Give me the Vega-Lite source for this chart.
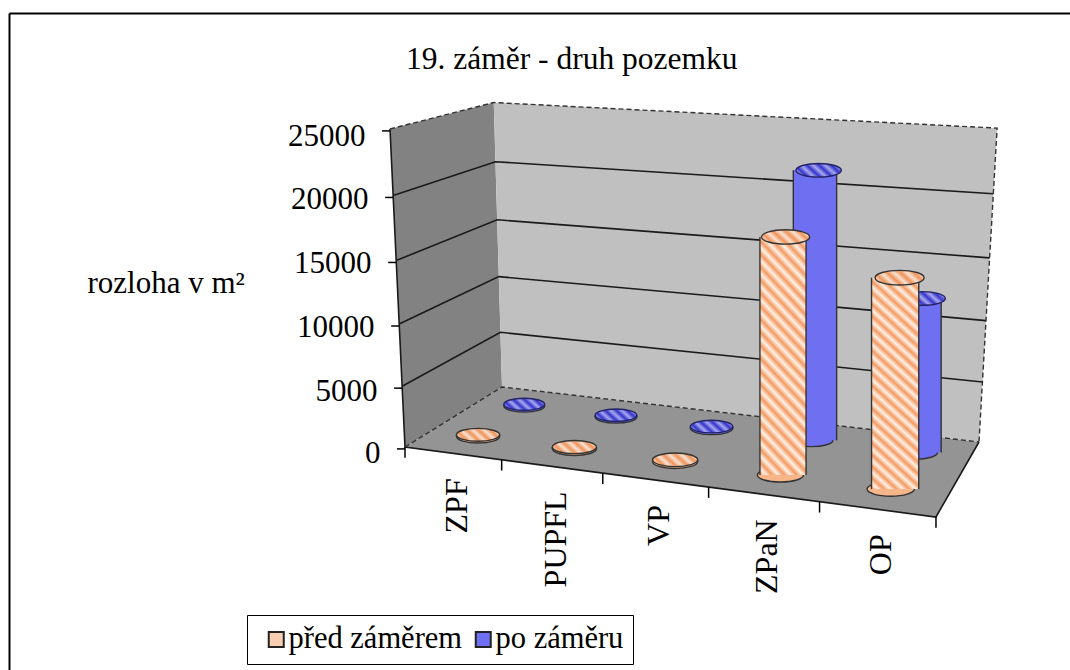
{"$schema":"https://vega.github.io/schema/vega-lite/v6.json","autosize":"none","padding":{"left":9,"top":13,"right":0,"bottom":0},"width":1061,"height":657,"background":"white","config":{"view":{"stroke":null},"font":"Liberation Serif"},
"title":{"text":"19. záměr - druh pozemku","anchor":"start","frame":"group","dx":397,"dy":87,"offset":0,"baseline":"alphabetic","font":"Liberation Serif","fontSize":31.5,"fontWeight":"normal","color":"black"},
"datasets":{
"shell":[
{"part":"left","i":0,"U":0,"D":0,"V":0},{"part":"left","i":1,"U":0,"D":1,"V":0},{"part":"left","i":2,"U":0,"D":1,"V":25000},{"part":"left","i":3,"U":0,"D":0,"V":25000},
{"part":"back","i":0,"U":0,"D":1,"V":0},{"part":"back","i":1,"U":5,"D":1,"V":0},{"part":"back","i":2,"U":5,"D":1,"V":25000},{"part":"back","i":3,"U":0,"D":1,"V":25000},
{"part":"floor","i":0,"U":0,"D":0,"V":0},{"part":"floor","i":1,"U":5,"D":0,"V":0},{"part":"floor","i":2,"U":5,"D":1,"V":0},{"part":"floor","i":3,"U":0,"D":1,"V":0}],
"lines":[
{"line":"g5","kind":"solid","i":0,"U":0,"D":0,"V":5000},{"line":"g5","kind":"solid","i":1,"U":0,"D":1,"V":5000},{"line":"g5","kind":"solid","i":2,"U":5,"D":1,"V":5000},
{"line":"g10","kind":"solid","i":0,"U":0,"D":0,"V":10000},{"line":"g10","kind":"solid","i":1,"U":0,"D":1,"V":10000},{"line":"g10","kind":"solid","i":2,"U":5,"D":1,"V":10000},
{"line":"g15","kind":"solid","i":0,"U":0,"D":0,"V":15000},{"line":"g15","kind":"solid","i":1,"U":0,"D":1,"V":15000},{"line":"g15","kind":"solid","i":2,"U":5,"D":1,"V":15000},
{"line":"g20","kind":"solid","i":0,"U":0,"D":0,"V":20000},{"line":"g20","kind":"solid","i":1,"U":0,"D":1,"V":20000},{"line":"g20","kind":"solid","i":2,"U":5,"D":1,"V":20000},
{"line":"front","kind":"solid","i":0,"U":0,"D":0,"V":25000},{"line":"front","kind":"solid","i":1,"U":0,"D":0,"V":0},{"line":"front","kind":"solid","i":2,"U":5,"D":0,"V":0},{"line":"front","kind":"solid","i":3,"U":5,"D":1,"V":0},
{"line":"rim","kind":"dash","i":0,"U":0,"D":0,"V":25000},{"line":"rim","kind":"dash","i":1,"U":0,"D":1,"V":25000},{"line":"rim","kind":"dash","i":2,"U":5,"D":1,"V":25000},{"line":"rim","kind":"dash","i":3,"U":5,"D":1,"V":0},
{"line":"base","kind":"dash","i":0,"U":0,"D":0,"V":0},{"line":"base","kind":"dash","i":1,"U":0,"D":1,"V":0},{"line":"base","kind":"dash","i":2,"U":5,"D":1,"V":0}],
"yticks":[{"V":0},{"V":5000},{"V":10000},{"V":15000},{"V":20000},{"V":25000}],
"xticks":[{"U":0},{"U":1},{"U":2},{"U":3},{"U":4},{"U":5}],
"rows":[
{"category":"ZPF","series":"před záměrem","value":150},{"category":"PUPFL","series":"před záměrem","value":150},{"category":"VP","series":"před záměrem","value":150},{"category":"ZPaN","series":"před záměrem","value":18200},{"category":"OP","series":"před záměrem","value":15900},
{"category":"ZPF","series":"po záměru","value":150},{"category":"PUPFL","series":"po záměru","value":150},{"category":"VP","series":"po záměru","value":150},{"category":"ZPaN","series":"po záměru","value":21700},{"category":"OP","series":"po záměru","value":12400}]
},
"layer":[
{"data":{"name":"shell"},"transform":[
{"calculate":"1-.1097*datum.U/5+.1231*datum.D-.055*datum.V/25000","as":"w"},
{"calculate":"(405+428.3*datum.U/5+158.8*datum.D-36.45*datum.V/25000)/datum.w","as":"sx"},
{"calculate":"(447-(447+13.3*datum.U/5-12.4*datum.D-325.1*datum.V/25000)/datum.w)/63.8*5000","as":"yv"}],
"layer":[
{"transform":[{"filter":"datum.part=='left'"}],"mark":{"type":"line","fill":"#828282","strokeWidth":0},"encoding":{"x":{"field":"sx","type":"quantitative","scale":{"domain":[9,1070]},"axis":{"orient":"top","domain":true,"domainColor":"black","domainWidth":2,"ticks":false,"labels":false,"grid":false,"title":null}},"y":{"field":"yv","type":"quantitative","scale":{"domain":[-17476,34012.5]},"axis":{"values":[0,5000,10000,15000,20000,25000],"domain":true,"domainColor":"black","domainWidth":2,"ticks":false,"grid":false,"labelFont":"Liberation Serif","labelFontSize":31,"labelColor":"black","labelPadding":0,"labelFlush":false,"labelOverlap":false,"format":"d","encoding":{"labels":{"dx":{"value":{"expr":"371-3*datum.value/5000"}},"dy":{"value":{"expr":"datum.value==0?6:8"}}}},"title":"rozloha v m²","titleFont":"Liberation Serif","titleFontSize":31,"titleFontWeight":"normal","titleColor":"black","titleAngle":0,"titleAlign":"left","titleBaseline":"alphabetic","titleX":78,"titleY":279}},"order":{"field":"i"}}},
{"transform":[{"filter":"datum.part=='back'"}],"mark":{"type":"line","fill":"#c0c0c0","strokeWidth":0},"encoding":{"x":{"field":"sx","type":"quantitative","scale":{"domain":[9,1070]}},"y":{"field":"yv","type":"quantitative","scale":{"domain":[-17476,34012.5]}},"order":{"field":"i"}}},
{"transform":[{"filter":"datum.part=='floor'"}],"mark":{"type":"line","fill":"#949494","strokeWidth":0},"encoding":{"x":{"field":"sx","type":"quantitative","scale":{"domain":[9,1070]}},"y":{"field":"yv","type":"quantitative","scale":{"domain":[-17476,34012.5]}},"order":{"field":"i"}}}
]},
{"data":{"name":"lines"},"transform":[
{"calculate":"1-.1097*datum.U/5+.1231*datum.D-.055*datum.V/25000","as":"w"},
{"calculate":"(405+428.3*datum.U/5+158.8*datum.D-36.45*datum.V/25000)/datum.w","as":"sx"},
{"calculate":"(447-(447+13.3*datum.U/5-12.4*datum.D-325.1*datum.V/25000)/datum.w)/63.8*5000","as":"yv"}],
"layer":[
{"transform":[{"filter":"datum.kind=='solid'"}],"mark":{"type":"line","stroke":"#1a1a1a","strokeWidth":1.6},"encoding":{"x":{"field":"sx","type":"quantitative","scale":{"domain":[9,1070]}},"y":{"field":"yv","type":"quantitative","scale":{"domain":[-17476,34012.5]}},"detail":{"field":"line"},"order":{"field":"i"}}},
{"transform":[{"filter":"datum.kind=='dash'"}],"mark":{"type":"line","stroke":"#333333","strokeWidth":1.4,"strokeDash":[5,3]},"encoding":{"x":{"field":"sx","type":"quantitative","scale":{"domain":[9,1070]}},"y":{"field":"yv","type":"quantitative","scale":{"domain":[-17476,34012.5]}},"detail":{"field":"line"},"order":{"field":"i"}}}
]},
{"data":{"name":"yticks"},"transform":[
{"calculate":"1-.055*datum.V/25000","as":"w"},
{"calculate":"(405-36.45*datum.V/25000)/datum.w","as":"sx"},
{"calculate":"datum.sx-8","as":"sx2"},
{"calculate":"(447-(447-325.1*datum.V/25000)/datum.w)/63.8*5000-150","as":"yv"}],
"mark":{"type":"rule","stroke":"black","strokeWidth":1.5},"encoding":{"x":{"field":"sx","type":"quantitative","scale":{"domain":[9,1070]}},"x2":{"field":"sx2"},"y":{"field":"yv","type":"quantitative","scale":{"domain":[-17476,34012.5]}}}},
{"data":{"name":"xticks"},"transform":[
{"calculate":"1-.1097*datum.U/5","as":"w"},
{"calculate":"(405+428.3*datum.U/5)/datum.w","as":"sx"},
{"calculate":"(447-(447+13.3*datum.U/5)/datum.w)/63.8*5000","as":"yv"},
{"calculate":"datum.yv-850","as":"yv2"}],
"mark":{"type":"rule","stroke":"black","strokeWidth":1.5},"encoding":{"x":{"field":"sx","type":"quantitative","scale":{"domain":[9,1070]}},"y":{"field":"yv","type":"quantitative","scale":{"domain":[-17476,34012.5]}},"y2":{"field":"yv2"}}},
{"data":{"name":"rows"},"transform":[
{"calculate":"(indexof(['ZPF','PUPFL','VP','ZPaN','OP'],datum.category)+.5)/5","as":"U"},
{"calculate":"datum.series=='po záměru'?.75:.25","as":"D"},
{"calculate":"1-.1097*datum.U+.1231*datum.D","as":"wb"},
{"calculate":"datum.wb-.055*datum.value/25000","as":"wt"},
{"calculate":"(405+428.3*datum.U+158.8*datum.D)/datum.wb","as":"xb"},
{"calculate":"(405+428.3*datum.U+158.8*datum.D-36.45*datum.value/25000)/datum.wt","as":"xt"},
{"calculate":"(447-(447+13.3*datum.U-12.4*datum.D)/datum.wb)/63.8*5000","as":"yb"},
{"calculate":"(447-(447+13.3*datum.U-12.4*datum.D-325.1*datum.value/25000)/datum.wt)/63.8*5000","as":"yt"},
{"calculate":"pow(44/datum.wb,2)","as":"sb"},
{"calculate":"pow(44/datum.wt,2)","as":"st"},
{"calculate":"(datum.xb+datum.xt)/2-22/datum.wb","as":"xl"},
{"calculate":"(datum.xb+datum.xt)/2+22/datum.wb","as":"xr"}],
"layer":[
{"transform":[{"filter":"datum.series=='po záměru'"}],"layer":[
{"mark":{"type":"point","filled":true,"opacity":1,"shape":"M-1,0A1,0.3,0,1,1,1,0A1,0.3,0,1,1,-1,0Z","stroke":"#333333","strokeWidth":1.4},"encoding":{"x":{"field":"xb","type":"quantitative","scale":{"domain":[9,1070]}},"y":{"field":"yb","type":"quantitative","scale":{"domain":[-17476,34012.5]}},"size":{"field":"sb","type":"quantitative","scale":null},"color":{"field":"series","type":"nominal","scale":{"domain":["před záměrem","po záměru"],"range":["#f7cfb0","#6f6ff2"]},"legend":{"title":null,"orient":"none","legendX":238,"legendY":602,"direction":"horizontal","strokeColor":"black","fillColor":"white","padding":9,"symbolType":"square","symbolSize":225,"symbolStrokeColor":"#222222","symbolStrokeWidth":2,"symbolOpacity":1,"symbolOffset":5,"labelFont":"Liberation Serif","labelFontSize":30.5,"labelColor":"black","labelOffset":-3,"labelLimit":400,"columnPadding":0}}}},
{"mark":{"type":"rect","fill":"#6f6ff2"},"encoding":{"x":{"field":"xl","type":"quantitative","scale":{"domain":[9,1070]}},"x2":{"field":"xr"},"y":{"field":"yt","type":"quantitative","scale":{"domain":[-17476,34012.5]}},"y2":{"field":"yb"}}},
{"mark":{"type":"rule","stroke":"#333333","strokeWidth":1.4},"encoding":{"x":{"field":"xl","type":"quantitative","scale":{"domain":[9,1070]}},"y":{"field":"yt","type":"quantitative","scale":{"domain":[-17476,34012.5]}},"y2":{"field":"yb"}}},
{"mark":{"type":"rule","stroke":"#333333","strokeWidth":1.4},"encoding":{"x":{"field":"xr","type":"quantitative","scale":{"domain":[9,1070]}},"y":{"field":"yt","type":"quantitative","scale":{"domain":[-17476,34012.5]}},"y2":{"field":"yb"}}},
{"mark":{"type":"point","filled":true,"opacity":1,"fill":{"gradient":"linear","x1":0,"y1":1,"x2":1.2,"y2":0.6,"stops":[{"offset":0,"color":"#3434cc"},{"offset":0.1,"color":"#a8a8ee"},{"offset":0.2,"color":"#3434cc"},{"offset":0.3,"color":"#a8a8ee"},{"offset":0.4,"color":"#3434cc"},{"offset":0.5,"color":"#a8a8ee"},{"offset":0.6,"color":"#3434cc"},{"offset":0.7,"color":"#a8a8ee"},{"offset":0.8,"color":"#3434cc"},{"offset":0.9,"color":"#a8a8ee"},{"offset":1,"color":"#3434cc"}]},"shape":"M-1,0A1,0.3,0,1,1,1,0A1,0.3,0,1,1,-1,0Z","stroke":"#222266","strokeWidth":1.4},"encoding":{"x":{"field":"xt","type":"quantitative","scale":{"domain":[9,1070]}},"y":{"field":"yt","type":"quantitative","scale":{"domain":[-17476,34012.5]}},"size":{"field":"st","type":"quantitative","scale":null}}}
]},
{"transform":[{"filter":"datum.series=='před záměrem'"}],"layer":[
{"mark":{"type":"point","filled":true,"opacity":1,"fill":"#f7b58a","shape":"M-1,0A1,0.3,0,1,1,1,0A1,0.3,0,1,1,-1,0Z","stroke":"#333333","strokeWidth":1.4},"encoding":{"x":{"field":"xb","type":"quantitative","scale":{"domain":[9,1070]}},"y":{"field":"yb","type":"quantitative","scale":{"domain":[-17476,34012.5]}},"size":{"field":"sb","type":"quantitative","scale":null}}},
{"mark":{"type":"rect","fill":{"gradient":"linear","x1":0,"y1":1,"x2":0.2365,"y2":-0.156,"stops":[{"offset":0,"color":"#f39a62"},{"offset":0.0227,"color":"#fff1e6"},{"offset":0.0455,"color":"#f39a62"},{"offset":0.0682,"color":"#fff1e6"},{"offset":0.0909,"color":"#f39a62"},{"offset":0.1136,"color":"#fff1e6"},{"offset":0.1364,"color":"#f39a62"},{"offset":0.1591,"color":"#fff1e6"},{"offset":0.1818,"color":"#f39a62"},{"offset":0.2045,"color":"#fff1e6"},{"offset":0.2273,"color":"#f39a62"},{"offset":0.25,"color":"#fff1e6"},{"offset":0.2727,"color":"#f39a62"},{"offset":0.2955,"color":"#fff1e6"},{"offset":0.3182,"color":"#f39a62"},{"offset":0.3409,"color":"#fff1e6"},{"offset":0.3636,"color":"#f39a62"},{"offset":0.3864,"color":"#fff1e6"},{"offset":0.4091,"color":"#f39a62"},{"offset":0.4318,"color":"#fff1e6"},{"offset":0.4545,"color":"#f39a62"},{"offset":0.4773,"color":"#fff1e6"},{"offset":0.5,"color":"#f39a62"},{"offset":0.5227,"color":"#fff1e6"},{"offset":0.5455,"color":"#f39a62"},{"offset":0.5682,"color":"#fff1e6"},{"offset":0.5909,"color":"#f39a62"},{"offset":0.6136,"color":"#fff1e6"},{"offset":0.6364,"color":"#f39a62"},{"offset":0.6591,"color":"#fff1e6"},{"offset":0.6818,"color":"#f39a62"},{"offset":0.7045,"color":"#fff1e6"},{"offset":0.7273,"color":"#f39a62"},{"offset":0.75,"color":"#fff1e6"},{"offset":0.7727,"color":"#f39a62"},{"offset":0.7955,"color":"#fff1e6"},{"offset":0.8182,"color":"#f39a62"},{"offset":0.8409,"color":"#fff1e6"},{"offset":0.8636,"color":"#f39a62"},{"offset":0.8864,"color":"#fff1e6"},{"offset":0.9091,"color":"#f39a62"},{"offset":0.9318,"color":"#fff1e6"},{"offset":0.9545,"color":"#f39a62"},{"offset":0.9773,"color":"#fff1e6"},{"offset":1,"color":"#f39a62"}]}},"encoding":{"x":{"field":"xl","type":"quantitative","scale":{"domain":[9,1070]}},"x2":{"field":"xr"},"y":{"field":"yt","type":"quantitative","scale":{"domain":[-17476,34012.5]}},"y2":{"field":"yb"}}},
{"mark":{"type":"rule","stroke":"#333333","strokeWidth":1.4},"encoding":{"x":{"field":"xl","type":"quantitative","scale":{"domain":[9,1070]}},"y":{"field":"yt","type":"quantitative","scale":{"domain":[-17476,34012.5]}},"y2":{"field":"yb"}}},
{"mark":{"type":"rule","stroke":"#333333","strokeWidth":1.4},"encoding":{"x":{"field":"xr","type":"quantitative","scale":{"domain":[9,1070]}},"y":{"field":"yt","type":"quantitative","scale":{"domain":[-17476,34012.5]}},"y2":{"field":"yb"}}},
{"mark":{"type":"point","filled":true,"opacity":1,"fill":{"gradient":"linear","x1":0,"y1":1,"x2":1.2,"y2":0.6,"stops":[{"offset":0,"color":"#f0935a"},{"offset":0.1,"color":"#f7e2d2"},{"offset":0.2,"color":"#f0935a"},{"offset":0.3,"color":"#f7e2d2"},{"offset":0.4,"color":"#f0935a"},{"offset":0.5,"color":"#f7e2d2"},{"offset":0.6,"color":"#f0935a"},{"offset":0.7,"color":"#f7e2d2"},{"offset":0.8,"color":"#f0935a"},{"offset":0.9,"color":"#f7e2d2"},{"offset":1,"color":"#f0935a"}]},"shape":"M-1,0A1,0.3,0,1,1,1,0A1,0.3,0,1,1,-1,0Z","stroke":"#333333","strokeWidth":1.4},"encoding":{"x":{"field":"xt","type":"quantitative","scale":{"domain":[9,1070]}},"y":{"field":"yt","type":"quantitative","scale":{"domain":[-17476,34012.5]}},"size":{"field":"st","type":"quantitative","scale":null}}},
{"transform":[
{"calculate":"1-.1097*datum.U","as":"wf"},
{"calculate":"(405+428.3*datum.U)/datum.wf+4","as":"xf"},
{"calculate":"(447-(447+13.3*datum.U)/datum.wf)/63.8*5000-1960","as":"yf"}],
"mark":{"type":"text","angle":270,"align":"right","baseline":"middle","font":"Liberation Serif","fontSize":32,"color":"black"},"encoding":{"x":{"field":"xf","type":"quantitative","scale":{"domain":[9,1070]}},"y":{"field":"yf","type":"quantitative","scale":{"domain":[-17476,34012.5]}},"text":{"field":"category","type":"nominal"}}}
]}
]}
]}
